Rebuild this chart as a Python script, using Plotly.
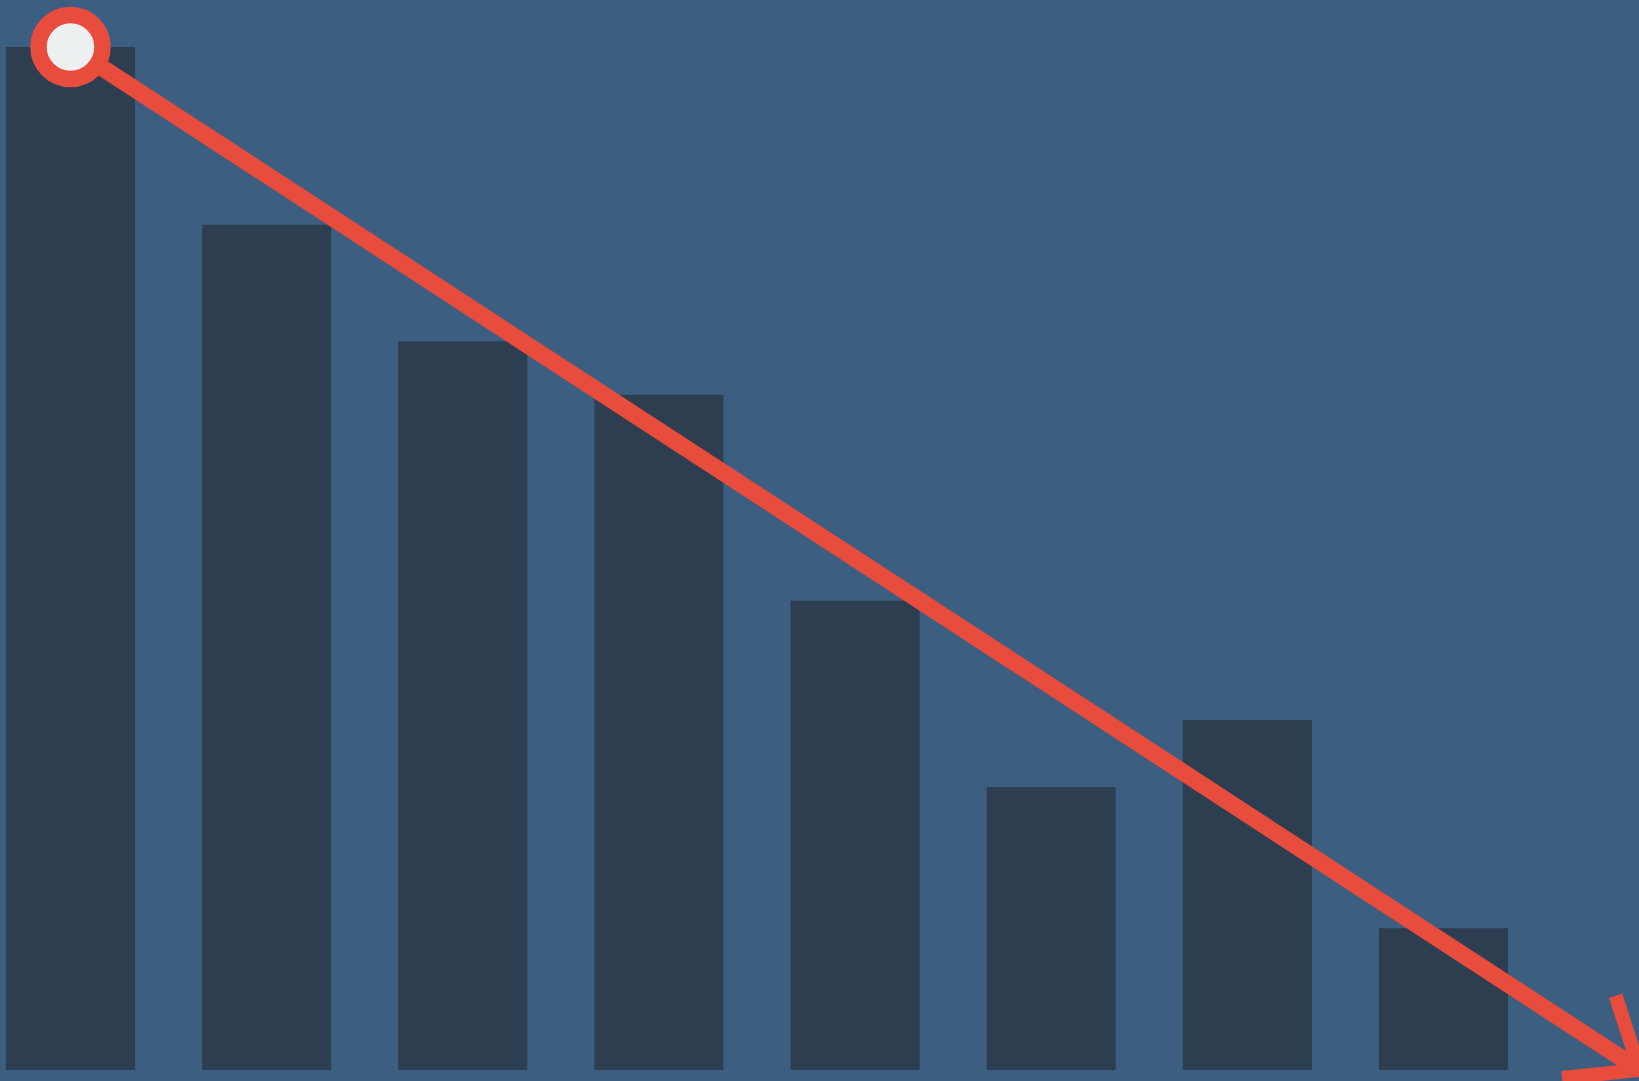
import math
import plotly.graph_objects as go

# Data
categories = [0, 1, 2, 3, 4, 5, 6, 7]
values = [145, 119.8, 103.3, 95.7, 66.5, 40.1, 49.6, 20.1]
trend_x = [0, 8]
trend_y = [145, 0]

W, H = 1639, 1081
BG = "#3c5e80"
BAR = "#2c3e50"
RED = "#e74c3c"
WHITE = "#ecf0f1"

x_range = [-0.3594, 7.9968]
y_range = [-1.56, 151.67]
px_x = W / (x_range[1] - x_range[0])
px_y = H / (y_range[1] - y_range[0])

fig = go.Figure()
fig.add_trace(go.Bar(x=categories, y=values, marker=dict(color=BAR, line=dict(width=0)),
                     hoverinfo="skip"))
fig.add_trace(go.Scatter(x=trend_x, y=trend_y, mode="lines",
                         line=dict(color=RED, width=17), hoverinfo="skip"))

# arrowhead (computed from trend line direction in pixel space)
tx, ty = trend_x[-1], trend_y[-1]
dxp = (trend_x[-1] - trend_x[0]) * px_x
dyp = -(trend_y[-1] - trend_y[0]) * px_y
L = math.hypot(dxp, dyp)
bx, by = -dxp / L, -dyp / L
arm = 78
half = math.radians(39)
pts = []
for s in (1, -1):
    c, si = math.cos(s * half), math.sin(s * half)
    rx, ry = bx * c - by * si, bx * si + by * c
    pts.append((tx + rx * arm / px_x, ty - ry * arm / px_y))
path = f"M {pts[0][0]},{pts[0][1]} L {tx},{ty} L {pts[1][0]},{pts[1][1]}"
fig.add_shape(type="path", path=path, xref="x", yref="y",
              line=dict(color=RED, width=14), layer="above")

fig.add_trace(go.Scatter(x=[trend_x[0]], y=[trend_y[0]], mode="markers",
                         marker=dict(size=64, color=WHITE, line=dict(color=RED, width=16.5)),
                         hoverinfo="skip", cliponaxis=False))

fig.update_layout(
    width=W, height=H, autosize=False,
    margin=dict(l=0, r=0, t=0, b=0, pad=0),
    paper_bgcolor=BG, plot_bgcolor=BG,
    showlegend=False, bargap=0.342,
    xaxis=dict(range=x_range, visible=False, showgrid=False, zeroline=False, fixedrange=True),
    yaxis=dict(range=y_range, visible=False, showgrid=False, zeroline=False, fixedrange=True),
)
fig.write_html("out.html", config={"displayModeBar": False},
               post_script="document.body.style.margin='0';document.body.style.background='" + BG + "';")
